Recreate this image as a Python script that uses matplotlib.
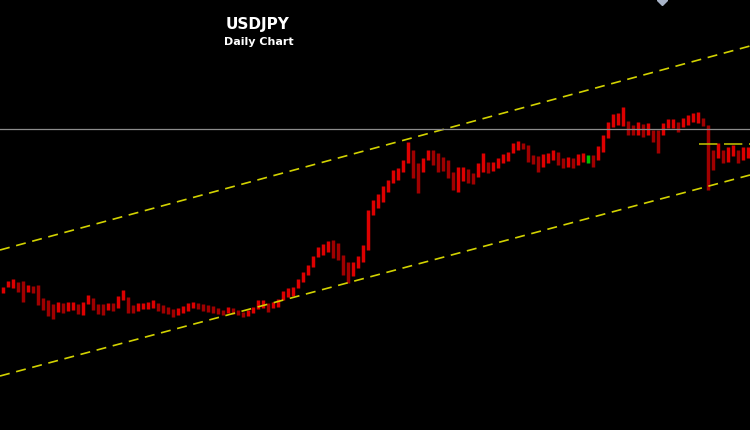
"""USDJPY daily chart with a rising channel, drawn on a black background."""
import matplotlib
matplotlib.use("Agg")
import matplotlib.pyplot as plt
import numpy as np

# daily range per bar (price)
highs = [
    117.25, 118.75, 119.25, 118.5, 118.75, 117.75, 117.5, 117.75, 114.5, 114.0,
    113.0, 113.5, 113.25, 113.5, 113.5, 113.0, 113.5, 115.25, 114.5, 113.0,
    113.0, 113.25, 113.25, 115.0, 116.5, 114.75, 112.75, 113.25, 113.25, 113.5,
    114.0, 113.25, 112.75, 112.25, 111.75, 112.0, 112.5, 113.25, 113.5, 113.25,
    113.0, 112.75, 112.5, 112.0, 111.5, 112.25, 112.0, 111.5, 111.0, 111.5,
    112.25, 114.0, 114.0, 113.25, 113.5, 114.25, 116.25, 117.0, 117.25, 119.25,
    121.0, 122.75, 125.0, 127.25, 128.0, 128.75, 129.0, 128.25, 125.25, 123.5,
    123.5, 125.0, 127.75, 136.5, 139.0, 140.5, 142.5, 144.0, 146.5, 147.0,
    149.0, 153.5, 151.5, 148.25, 149.5, 151.5, 151.5, 150.75, 149.75, 149.0,
    146.0, 147.25, 147.25, 146.75, 145.75, 148.25, 150.75, 148.5, 148.5, 149.5,
    150.5, 151.0, 153.25, 153.75, 153.25, 152.75, 150.25, 150.0, 150.5, 150.75,
    151.5, 151.0, 149.5, 149.75, 149.5, 150.5, 150.75, 150.25, 150.25, 152.5,
    155.25, 158.5, 160.5, 160.75, 162.25, 158.75, 157.75, 158.5, 158.0, 158.25,
    156.5, 156.5, 158.25, 159.25, 159.25, 158.5, 159.5, 160.25, 160.75, 161.0,
    159.5, 157.75, 151.5, 153.25, 151.5, 152.25, 152.75, 151.5, 152.25, 152.25,
]
lows = [
    115.75, 117.25, 117.0, 116.0, 113.5, 116.0, 115.75, 112.75, 111.5, 110.0,
    109.25, 111.0, 110.75, 111.25, 111.5, 110.5, 110.25, 113.0, 111.5, 110.5,
    110.25, 111.5, 111.25, 112.0, 114.0, 110.75, 110.75, 111.25, 111.75, 111.75,
    112.0, 111.25, 110.75, 110.5, 109.75, 110.25, 110.75, 111.25, 112.0, 111.75,
    111.25, 111.0, 110.75, 110.5, 110.25, 110.75, 110.5, 110.25, 109.75, 110.0,
    110.75, 111.75, 112.0, 111.0, 112.0, 112.25, 114.0, 114.75, 115.0, 117.0,
    118.5, 120.25, 122.25, 124.75, 125.25, 126.0, 124.5, 124.0, 120.25, 118.25,
    120.0, 122.0, 123.5, 126.5, 135.25, 137.0, 138.5, 141.0, 143.25, 144.0,
    146.0, 148.25, 144.5, 140.75, 146.0, 149.0, 147.75, 146.0, 146.25, 144.5,
    141.5, 141.0, 143.75, 143.25, 143.0, 144.75, 146.0, 145.75, 146.25, 147.0,
    148.25, 148.75, 150.75, 151.5, 151.75, 148.5, 148.0, 146.0, 147.25, 148.25,
    149.0, 147.75, 147.0, 147.25, 147.0, 147.75, 148.5, 148.25, 147.25, 149.0,
    151.0, 154.5, 157.25, 157.75, 157.5, 155.25, 155.25, 155.25, 154.75, 155.25,
    153.5, 150.75, 155.25, 157.0, 157.0, 156.0, 157.25, 157.75, 158.5, 158.25,
    157.5, 141.5, 146.5, 149.5, 148.25, 148.5, 150.0, 148.25, 149.0, 149.5,
]

# trend channel (start / end price) and horizontal levels
upper_channel = [126.5, 177.5]
lower_channel = [95.0, 145.25]
resistance = 156.8
range_top = 152.9
range_start = 139.3

n = len(highs)
x = np.arange(n)
mid = (np.array(highs) + np.array(lows)) / 2
colors = ["#dd0000" if i == 0 or mid[i] >= mid[i - 1] else "#a00000" for i in range(n)]
colors[117] = "#00c000"

fig = plt.figure(figsize=(7.5, 4.3), dpi=100, facecolor="black")
ax = fig.add_axes([0, 0, 1, 1], facecolor="black")

ax.vlines(x, lows, highs, colors=colors, linewidth=2.5)

ends = [-0.5, n - 0.5]
for ch in (upper_channel, lower_channel):
    ax.plot(ends, ch, color="#d2d200", linewidth=1.2, dashes=(6, 4))

ax.axhline(resistance, color="#8c8c8c", linewidth=0.9)
ax.plot([range_start, n - 0.5], [range_top, range_top], color="#b8b800",
        linewidth=1.2, dashes=(11, 4))

ax.plot([131.9], [188.9], marker="D", markersize=5, color="#a8b4c8", clip_on=False)

ax.set_xlim(-0.5, n - 0.5)
ax.set_ylim(81.5, 189)
ax.axis("off")

fig.text(0.344, 0.942, "USDJPY", color="white", fontsize=11, fontweight="bold",
         ha="center", va="center")
fig.text(0.345, 0.902, "Daily Chart", color="white", fontsize=8, fontweight="bold",
         ha="center", va="center")

fig.savefig("out.png", dpi=100, facecolor="black")
